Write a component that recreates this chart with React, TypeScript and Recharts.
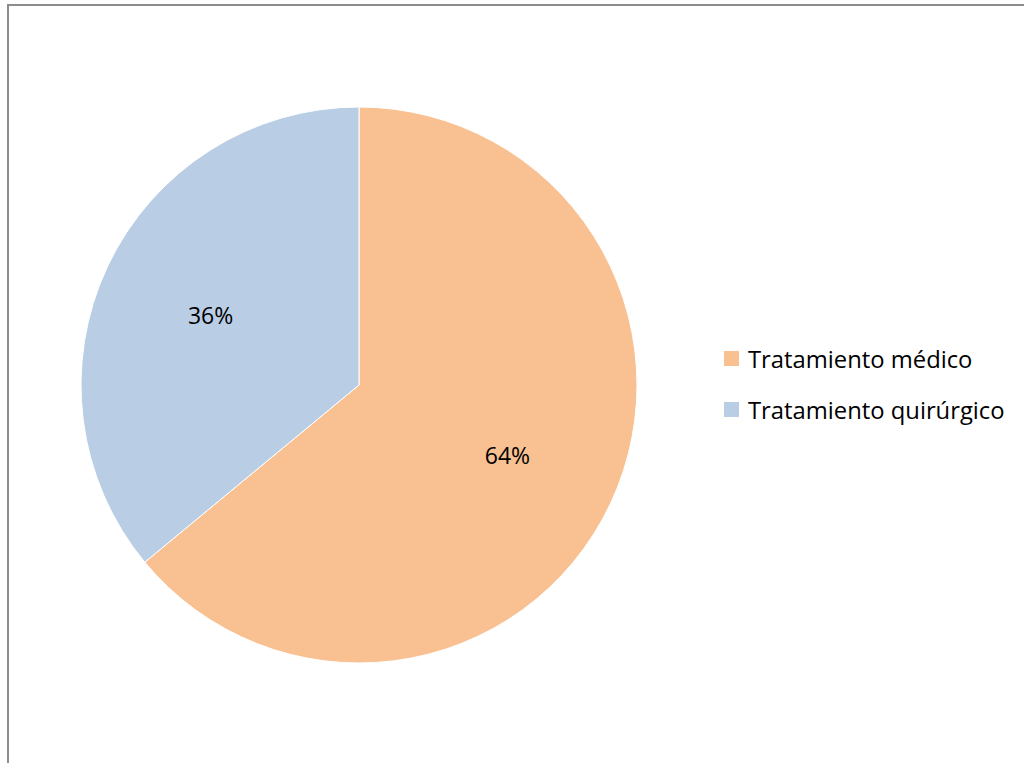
import { PieChart, Pie, Cell, Legend } from "recharts";

const categories = ["Tratamiento médico", "Tratamiento quirúrgico"];
const values = [64, 36];
const COLORS = ["#F9C191", "#B9CDE5"];

const data = categories.map((name, i) => ({ name, value: values[i] }));

const RADIAN = Math.PI / 180;
const FONT = "'Open Sans', Lato, sans-serif";

// etiqueta de porcentaje dentro del sector
const renderLabel = (props: any) => {
  const { cx, cy, midAngle, outerRadius, percent } = props;
  const r = outerRadius * 0.59;
  const x = cx + r * Math.cos(-midAngle * RADIAN);
  const y = cy + r * Math.sin(-midAngle * RADIAN);
  return (
    <text
      x={x}
      y={y}
      fill="#000"
      textAnchor="middle"
      dominantBaseline="central"
      fontSize={23}
      fontFamily={FONT}
    >
      {`${Math.round(percent * 100)}%`}
    </text>
  );
};

const renderLegend = () => (
  <div style={{ fontFamily: FONT, fontSize: 23.8, color: "#000" }}>
    {data.map((d, i) => (
      <div key={d.name} style={{ display: "flex", alignItems: "center", height: 51 }}>
        <span
          style={{
            display: "inline-block",
            width: 15,
            height: 15,
            background: COLORS[i],
            marginRight: 9,
          }}
        />
        <span>{d.name}</span>
      </div>
    ))}
  </div>
);

export default function App() {
  return (
    <div
      style={{
        position: "absolute",
        left: 7,
        top: 4,
        width: 1030,
        height: 770,
        border: "2px solid #8c8c8c",
        background: "#fff",
        boxSizing: "border-box",
      }}
    >
      <PieChart
        width={1026}
        height={766}
        margin={{ top: 0, right: 0, bottom: 0, left: 0 }}
        style={{ position: "absolute", left: -9, top: -6 }}
      >
        <Pie
          data={data}
          dataKey="value"
          nameKey="name"
          cx={359}
          cy={385}
          outerRadius={278}
          startAngle={90}
          endAngle={-270}
          stroke="#fff"
          strokeWidth={1}
          labelLine={false}
          label={renderLabel}
          isAnimationActive={false}
        >
          {data.map((entry, index) => (
            <Cell key={`cell-${index}`} fill={COLORS[index % COLORS.length]} />
          ))}
        </Pie>
        <Legend
          layout="vertical"
          align="right"
          verticalAlign="middle"
          content={renderLegend}
          wrapperStyle={{ left: 724, top: 333, width: 300 }}
        />
      </PieChart>
    </div>
  );
}
